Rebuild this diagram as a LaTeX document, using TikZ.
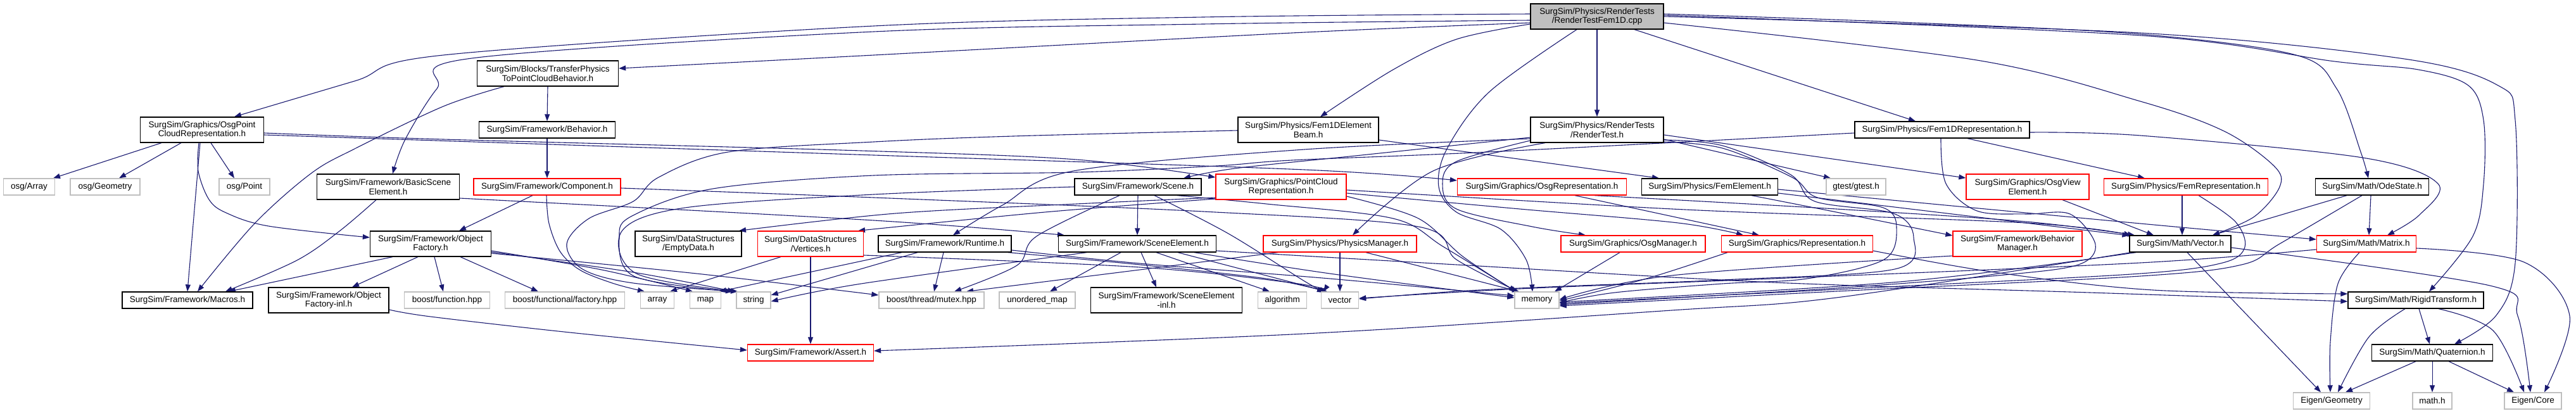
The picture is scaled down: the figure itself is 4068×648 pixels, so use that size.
\documentclass[tikz,border=0pt]{standalone}
\usepackage{fontspec}
\setmainfont{Liberation Sans}
\usetikzlibrary{arrows.meta}
\definecolor{edgec}{HTML}{191970}
\definecolor{lgray}{HTML}{BFBFBF}
\definecolor{dred}{HTML}{FF0000}
\newcommand{\dgf}{\fontsize{13.5pt}{14.5pt}\selectfont}
\pgfdeclarelayer{edgelayer}
\pgfsetlayers{edgelayer,main}
\tikzset{
 nd/.style={rectangle, inner sep=0pt, minimum height=26pt, align=center, font=\dgf, fill=white, text=black},
 bk/.style={nd, draw=black, line width=1.3pt},
 rd/.style={nd, draw=dred, line width=1.3pt},
 gy/.style={nd, draw=lgray, line width=1.3pt},
 two/.style={minimum height=40pt},
 dep/.style={draw=edgec, line width=1.1pt, -{Triangle[length=11pt,width=8pt]}},
 sm/.style={smooth, tension=0.55},
}
\begin{document}
\begin{tikzpicture}[x=1pt,y=-1pt]
\useasboundingbox (0,0) rectangle (4068,648);
% rank 0-2
\node[bk,two,fill=lgray,minimum width=210pt] (A) at (2522,26) {SurgSim/Physics/RenderTests\\/RenderTestFem1D.cpp};
\node[bk,two,minimum width=223pt] (B) at (865,116) {SurgSim/Blocks/TransferPhysics\\ToPointCloudBehavior.h};
\node[bk,two,minimum width=195pt] (C) at (319,205) {SurgSim/Graphics/OsgPoint\\CloudRepresentation.h};
\node[bk,minimum width=215pt] (E) at (864,205) {SurgSim/Framework/Behavior.h};
\node[bk,two,minimum width=222pt] (AA) at (2066,205) {SurgSim/Physics/Fem1DElement\\Beam.h};
\node[bk,two,minimum width=210pt] (AB) at (2522,205) {SurgSim/Physics/RenderTests\\/RenderTest.h};
\node[bk,minimum width=276pt] (AI) at (3067,205) {SurgSim/Physics/Fem1DRepresentation.h};
% rank 3
\node[gy,minimum width=81pt] (oA) at (46,295) {osg/Array};
\node[gy,minimum width=110pt] (oG) at (166,295) {osg/Geometry};
\node[gy,minimum width=80pt] (oP) at (386,295) {osg/Point};
\node[bk,two,minimum width=225pt] (D) at (613,295) {SurgSim/Framework/BasicScene\\Element.h};
\node[rd,minimum width=232pt] (F) at (864,295) {SurgSim/Framework/Component.h};
\node[bk,minimum width=200pt] (R) at (1797,295) {SurgSim/Framework/Scene.h};
\node[rd,two,minimum width=206pt] (S) at (2023,295) {SurgSim/Graphics/PointCloud\\Representation.h};
\node[rd,minimum width=267pt] (AC) at (2435,295) {SurgSim/Graphics/OsgRepresentation.h};
\node[bk,minimum width=215pt] (AD) at (2700,295) {SurgSim/Physics/FemElement.h};
\node[gy,minimum width=94pt] (AJ) at (2931,295) {gtest/gtest.h};
\node[rd,two,minimum width=194pt] (AK) at (3202,295) {SurgSim/Graphics/OsgView\\Element.h};
\node[rd,minimum width=259pt] (AL) at (3452,295) {SurgSim/Physics/FemRepresentation.h};
\node[bk,minimum width=179pt] (AO) at (3746,295) {SurgSim/Math/OdeState.h};
% rank 4
\node[bk,two,minimum width=191pt] (G) at (680,385) {SurgSim/Framework/Object\\Factory.h};
\node[bk,two,minimum width=168pt] (O) at (1087,385) {SurgSim/DataStructures\\/EmptyData.h};
\node[rd,two,minimum width=167pt] (P) at (1280,385) {SurgSim/DataStructures\\/Vertices.h};
\node[bk,minimum width=210pt] (T) at (1492,385) {SurgSim/Framework/Runtime.h};
\node[bk,minimum width=249pt] (U) at (1796,385) {SurgSim/Framework/SceneElement.h};
\node[rd,minimum width=242pt] (V) at (2116,385) {SurgSim/Physics/PhysicsManager.h};
\node[rd,minimum width=228pt] (AG) at (2579,385) {SurgSim/Graphics/OsgManager.h};
\node[rd,minimum width=239pt] (AH) at (2838,385) {SurgSim/Graphics/Representation.h};
\node[rd,two,minimum width=204pt] (AM) at (3186,385) {SurgSim/Framework/Behavior\\Manager.h};
\node[bk,minimum width=160pt] (AN) at (3443,385) {SurgSim/Math/Vector.h};
\node[rd,minimum width=157pt] (AP) at (3737,385) {SurgSim/Math/Matrix.h};
% rank 5
\node[bk,minimum width=206pt] (H) at (296,474) {SurgSim/Framework/Macros.h};
\node[bk,two,minimum width=190pt] (I) at (519,474) {SurgSim/Framework/Object\\Factory-inl.h};
\node[gy,minimum width=135pt] (J) at (706,474) {boost/function.hpp};
\node[gy,minimum width=189pt] (K) at (892,474) {boost/functional/factory.hpp};
\node[gy,minimum width=53pt] (L) at (1038,474) {array};
\node[gy,minimum width=49pt] (M) at (1114,474) {map};
\node[gy,minimum width=54pt] (N) at (1190,474) {string};
\node[gy,minimum width=166pt] (W) at (1471,474) {boost/thread/mutex.hpp};
\node[gy,minimum width=120pt] (X) at (1638,474) {unordered\_map};
\node[bk,two,minimum width=239pt] (Y) at (1842,474) {SurgSim/Framework/SceneElement\\-inl.h};
\node[gy,minimum width=77pt] (Z) at (2025,474) {algorithm};
\node[gy,minimum width=59pt] (AE) at (2116,474) {vector};
\node[gy,minimum width=70pt] (AF) at (2427,474) {memory};
\node[bk,minimum width=214pt] (AQ) at (3815,474) {SurgSim/Math/RigidTransform.h};
% rank 6-7
\node[rd,minimum width=199pt] (Q) at (1280,557) {SurgSim/Framework/Assert.h};
\node[bk,minimum width=191pt] (AR) at (3841,557) {SurgSim/Math/Quaternion.h};
\node[gy,minimum width=121pt] (AS) at (3682,633) {Eigen/Geometry};
\node[gy,minimum width=62pt] (AT) at (3841,633) {math.h};
\node[gy,minimum width=90pt] (AU) at (4000,633) {Eigen/Core};

\begin{pgfonlayer}{edgelayer}
% root
\draw[dep] plot[sm] coordinates {([yshift=4pt]A.west) (1900,27) (1380,41) (700,87) (560,128) ([xshift=51pt]C.north)};
\draw[dep] plot[sm] coordinates {([yshift=-6pt]A.west) (1900,38) (1380,50) (745,92) (690,140) (640,220) ([xshift=7pt]D.north)};
\draw[dep] plot[sm] coordinates {([yshift=-10pt]A.west) (2040,52) (1380,87) ([yshift=8pt]B.east)};
\draw[dep] plot[sm] coordinates {([yshift=-12pt]A.west) (2300,62) (2200,110) ([xshift=19pt]AA.north)};
\draw[dep] plot[sm] coordinates {([xshift=-32pt]A.south) (2352,145) (2285,235) (2272,295) (2300,335) (2370,362) (2410,410) ([xshift=-7pt]AF.north)};
\draw[dep] (A.south) -- (AB.north);
\draw[dep] ([xshift=59pt]A.south) -- ([xshift=-42pt]AI.north);
\draw[dep] plot[sm] coordinates {([yshift=-10pt]A.east) (3122,95) (3380,160) (3512,207) (3591,262) (3600,295) (3560,342) ([xshift=51pt]AN.north)};
\draw[dep] plot[sm] coordinates {([yshift=4pt]A.east) (3000,35) (3380,54) (3626,87) (3690,140) (3728,240) ([xshift=-6pt]AO.north)};
\draw[dep] plot[sm] coordinates {([yshift=2pt]A.east) (3380,56) (3687,97) (3819,110) (3898,135) (3922,190) (3922,290) (3905,373) ([xshift=21pt]AQ.north)};
\draw[dep] plot[sm] coordinates {(A.east) (3380,52) (3797,93) (3945,135) (3972,190) (3972,415) (3942,498) ([xshift=35pt]AR.north)};
% B
\draw[dep] (B.south) -- (E.north);
\draw[dep] plot[sm] coordinates {([xshift=-69pt]B.south) (700,168) (560,235) (491,274) (402,353) ([xshift=16pt]H.north)};
% C
\draw[dep] ([xshift=-64pt]C.south) -- ([xshift=38pt]oA.north);
\draw[dep] ([xshift=-33pt]C.south) -- ([xshift=22pt]oG.north);
\draw[dep] ([xshift=14pt]C.south) -- ([xshift=-16pt]oP.north);
\draw[dep] ([xshift=-3pt]C.south) -- (H.north);
\draw[dep] plot[sm] coordinates {([xshift=-5pt]C.south) (313,270) (330,315) (357,336) (424,357) ([yshift=10pt]G.west)};
\draw[dep] plot[sm] coordinates {([yshift=-5pt]C.east) (700,220) (1360,238) (1700,252) ([yshift=15pt]S.west)};
\draw[dep] plot[sm] coordinates {([yshift=-8pt]C.east) (1380,245) (2060,268) ([yshift=10pt]AC.west)};
% D
\draw[dep] plot[sm] coordinates {([xshift=-19pt]D.south) (536,365) (469,411) ([xshift=60pt]H.north)};
\draw[dep] plot[sm] coordinates {([yshift=-18pt]D.east) (1380,348) ([xshift=-115pt]U.north)};
% E, F
\draw[dep] (E.south) -- (F.north);
\draw[dep] ([xshift=-23pt]F.south) -- ([xshift=45pt]G.north);
\draw[dep] plot[sm] coordinates {([xshift=-1pt]F.south) (867,353) (885,398) (917,427) (970,448) ([xshift=-20pt]L.north)};
\draw[dep] plot[sm] coordinates {([yshift=-2pt]F.east) (1380,312) (1900,334) (2240,358) (2300,410) ([xshift=-30pt]AF.north)};
% G
\draw[dep] ([xshift=-60pt]G.south) -- ([xshift=65pt]H.north);
\draw[dep] ([xshift=-20pt]G.south) -- ([xshift=37pt]I.north);
\draw[dep] ([xshift=6pt]G.south) -- ([xshift=-6pt]J.north);
\draw[dep] ([xshift=47pt]G.south) -- ([xshift=-42pt]K.north);
\draw[dep] plot[sm] coordinates {([yshift=-11pt]G.east) (950,426) ([xshift=-20pt]M.north)};
\draw[dep] plot[sm] coordinates {([yshift=-13pt]G.east) (1000,430) ([xshift=-30pt]N.north)};
\draw[dep] plot[sm] coordinates {([yshift=-15pt]G.east) (1100,432) ([yshift=8pt]W.west)};
% I
\draw[dep] plot[sm] coordinates {([yshift=-15pt]I.east) (680,500) (900,525) ([yshift=4pt]Q.west)};
% AA
\draw[dep] ([yshift=-16pt]AA.east) -- ([xshift=-80pt]AD.north);
\draw[dep] plot[sm] coordinates {([yshift=-1pt]AA.west) (1600,215) (1380,224) (1150,240) (1040,280) (1000,318) (930,345) (895,385) (920,425) (1000,447) ([xshift=-25pt]N.north)};
% AB
\draw[dep] plot[sm] coordinates {([yshift=-12pt]AB.west) (2150,245) (1950,266) ([xshift=72pt]R.north)};
\draw[dep] plot[sm] coordinates {([yshift=-14pt]AB.west) (2060,236) (1695,270) (1583,324) ([xshift=13pt]T.north)};
\draw[dep] plot[sm] coordinates {([xshift=-82pt]AB.south) (2263,270) ([xshift=20pt]V.north)};
\draw[dep] plot[sm] coordinates {([yshift=-17pt]AB.west) (2300,255) (2278,290) (2300,330) (2420,358) ([xshift=-75pt]AG.north)};
\draw[dep] ([yshift=-15pt]AB.east) -- ([xshift=-40pt]AJ.north);
\draw[dep] ([yshift=-8pt]AB.east) -- ([yshift=14pt]AK.west);
\draw[dep] plot[sm] coordinates {([yshift=-19pt]AB.east) (2720,234) (2830,280) (2870,312) (2974,328) (2995,360) (2975,410) (2854,440) (2720,448) (2550,462) ([yshift=-4pt]AF.east)};
\draw[dep] plot[sm] coordinates {([yshift=-16pt]AB.east) (2720,230) (2828,276) (2866,318) (2990,337) (3022,375) (2992,425) (2720,442) (2470,452) (2300,460) ([yshift=2pt]AE.east)};
% AD
\draw[dep] plot[sm] coordinates {([xshift=66pt]AD.south) (2900,335) ([yshift=13pt]AM.west)};
\draw[dep] plot[sm] coordinates {([yshift=-10pt]AD.east) (3100,340) ([yshift=13pt]AN.west)};
\draw[dep] plot[sm] coordinates {([yshift=-4pt]AD.east) (3380,353) ([yshift=7pt]AP.west)};
% S
\draw[dep] plot[sm] coordinates {([yshift=-17pt]S.west) (1700,322) (1414,337) ([xshift=80pt]O.north)};
\draw[dep] plot[sm] coordinates {([yshift=-19pt]S.west) (1650,335) ([xshift=75pt]P.north)};
\draw[dep] plot[sm] coordinates {([yshift=-10pt]S.east) (2400,330) (2650,352) ([xshift=-85pt]AH.north)};
\draw[dep] plot[sm] coordinates {([yshift=-15pt]S.east) (2240,345) (2310,405) ([xshift=-33pt]AF.north)};
\draw[dep] plot[sm] coordinates {([yshift=-5pt]S.east) (2661,331) (3200,352) ([xshift=-78pt]AN.north)};
% T
\draw[dep] ([xshift=-2pt]T.south) -- ([xshift=4pt]W.north);
\draw[dep] ([xshift=-68pt]T.south) -- ([xshift=22pt]M.north);
\draw[dep] ([xshift=-43pt]T.south) -- ([yshift=8pt]N.east);
\draw[dep] plot[sm] coordinates {([xshift=100pt]T.south) (1800,418) (2000,440) ([xshift=-22pt]AE.north)};
\draw[dep] plot[sm] coordinates {([yshift=-10pt]T.east) (1800,416) (2100,440) ([yshift=7pt]AF.west)};
% U
\draw[dep] ([xshift=-26pt]U.south) -- ([xshift=20pt]X.north);
\draw[dep] ([xshift=6pt]U.south) -- ([xshift=-16pt]Y.north);
\draw[dep] ([xshift=30pt]U.south) -- ([xshift=-20pt]Z.north);
\draw[dep] ([xshift=64pt]U.south) -- ([xshift=-20pt]AE.north);
\draw[dep] plot[sm] coordinates {([xshift=90pt]U.south) (2100,432) ([yshift=4pt]AF.west)};
\draw[dep] plot[sm] coordinates {([yshift=-11pt]U.east) (2300,418) (2800,446) (3300,462) ([yshift=-2pt]AQ.west)};
\draw[dep] plot[sm] coordinates {([xshift=-80pt]U.south) (1360,448) ([yshift=-2pt]N.east)};
% V
\draw[dep] (V.south) -- (AE.north);
\draw[dep] ([xshift=-98pt]V.south) -- ([xshift=55pt]W.north);
\draw[dep] ([xshift=41pt]V.south) -- ([xshift=-28pt]AF.north);
% AC, AG, AH
\draw[dep] ([xshift=52pt]AC.south) -- ([xshift=-60pt]AH.north);
\draw[dep] plot[sm] coordinates {([xshift=83pt]AC.south) (2900,330) (3200,350) ([xshift=-72pt]AN.north)};
\draw[dep] ([xshift=-21pt]AG.south) -- ([xshift=28pt]AF.north);
\draw[dep] plot[sm] coordinates {([yshift=-11pt]AH.east) (3150,430) (3400,458) ([yshift=10pt]AQ.west)};
\draw[dep] plot[sm] coordinates {([xshift=-110pt]AH.south) (2600,440) ([yshift=-1pt]AF.east)};
% AI
\draw[dep] ([xshift=40pt]AI.south) -- ([xshift=-65pt]AL.north);
\draw[dep] plot[sm] coordinates {([yshift=-4pt]AI.east) (3380,214) (3731,249) (3850,290) (3820,340) ([xshift=33pt]AP.north)};
\draw[dep] plot[sm] coordinates {([xshift=-2pt]AI.south) (3073,290) (3122,333) (3200,338) (3269,338) (3309,386) (3282,418) (3166,434) (2900,455) ([yshift=-7pt]AF.east)};
\draw[dep] plot[sm] coordinates {([yshift=-5pt]AI.west) (2350,240) (2040,253) (1921,262) (1700,272) (1380,277) (1126,298) (1000,340) (978,373) (1001,436) ([xshift=-33pt]N.north)};
% AK, AL, AM
\draw[dep] ([xshift=55pt]AK.south) -- ([xshift=-42pt]AN.north);
\draw[dep] ([xshift=-6pt]AL.south) -- ([xshift=3pt]AN.north);
\draw[dep] plot[sm] coordinates {([xshift=20pt]AL.south) (3530,350) (3545,390) (3510,415) (3380,432) (3000,452) ([yshift=-5pt]AF.east)};
\draw[dep] plot[sm] coordinates {([yshift=-19pt]AM.west) (2640,435) ([yshift=1pt]AF.east)};
% AN
\draw[dep] ([xshift=11pt]AN.south) -- ([xshift=-17pt]AS.north);
\draw[dep] plot[sm] coordinates {([yshift=-6pt]AN.east) (3932,451) (3976,499) ([xshift=-4pt]AU.north)};
\draw[dep] plot[sm] coordinates {([xshift=-78pt]AN.south) (2900,470) (2640,490) (2060,527) ([yshift=3pt]Q.east)};
\draw[dep] plot[sm] coordinates {([xshift=-70pt]AN.south) (3000,445) ([yshift=-3pt]AF.east)};
% AO
\draw[dep] ([xshift=-40pt]AO.south) -- ([xshift=51pt]AN.north);
\draw[dep] ([xshift=-2pt]AO.south) -- ([xshift=4pt]AP.north);
\draw[dep] plot[sm] coordinates {([xshift=-16pt]AO.south) (3600,385) (3540,418) (3380,436) (2900,460) ([yshift=-9pt]AF.east)};
% AP
\draw[dep] plot[sm] coordinates {([xshift=-11pt]AP.south) (3692,448) (3680,540) ([xshift=-2pt]AS.north)};
\draw[dep] plot[sm] coordinates {([yshift=-7pt]AP.east) (3986,414) (4058,499) ([xshift=18pt]AU.north)};
\draw[dep] plot[sm] coordinates {([yshift=-9pt]AP.west) (3380,415) (2800,440) (2400,456) ([yshift=3pt]AE.east)};
% AQ, AR
\draw[dep] ([xshift=5pt]AQ.south) -- ([xshift=-4pt]AR.north);
\draw[dep] plot[sm] coordinates {([xshift=-17pt]AQ.south) (3741,532) ([xshift=10pt]AS.north)};
\draw[dep] plot[sm] coordinates {([xshift=36pt]AQ.south) (3937,522) ([xshift=-14pt]AU.north)};
\draw[dep] ([xshift=-26pt]AR.south) -- ([xshift=22pt]AS.north);
\draw[dep] (AR.south) -- (AT.north);
\draw[dep] ([xshift=26pt]AR.south) -- ([xshift=-30pt]AU.north);
% P
\draw[dep] (P.south) -- (Q.north);
\draw[dep] ([xshift=-47pt]P.south) -- ([xshift=20pt]L.north);
\draw[dep] plot[sm] coordinates {([yshift=-18pt]P.east) (1800,422) (2050,448) ([xshift=-26pt]AE.north)};
% R
\draw[dep] (R.south) -- (U.north);
\draw[dep] plot[sm] coordinates {([xshift=-29pt]R.south) (1637,373) (1606,419) ([xshift=36pt]W.north)};
\draw[dep] plot[sm] coordinates {([xshift=26pt]R.south) (1940,369) (2060,444) ([xshift=-25pt]AE.north)};
\draw[dep] plot[sm] coordinates {([xshift=62pt]R.south) (2000,322) (2200,345) (2280,390) ([xshift=-33pt]AF.north)};
\draw[dep] plot[sm] coordinates {(R.west) (1380,307) (1082,328) (982,365) (1005,432) ([xshift=-25pt]N.north)};
\end{pgfonlayer}
\end{tikzpicture}
\end{document}
